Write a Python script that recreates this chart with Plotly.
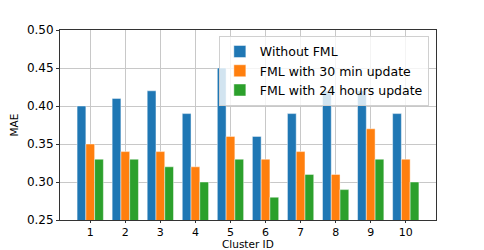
import plotly.graph_objects as go

clusters = [1, 2, 3, 4, 5, 6, 7, 8, 9, 10]
without_fml = [0.40, 0.41, 0.42, 0.39, 0.45, 0.36, 0.39, 0.42, 0.42, 0.39]
fml_30min = [0.35, 0.34, 0.34, 0.32, 0.36, 0.33, 0.34, 0.31, 0.37, 0.33]
fml_24h = [0.33, 0.33, 0.32, 0.30, 0.33, 0.28, 0.31, 0.29, 0.33, 0.30]
series_names = ["Without FML", "FML with 30 min update", "FML with 24 hours update"]
colors = ["#1f77b4", "#ff7f0e", "#2ca02c"]

fig = go.Figure()
for name, vals, c in zip(series_names, [without_fml, fml_30min, fml_24h], colors):
    fig.add_trace(go.Bar(x=clusters, y=vals, name=name, marker=dict(color=c, line=dict(color="rgba(255,255,255,0.45)", width=1))))

font = "DejaVu Sans, sans-serif"
fig.update_layout(
    width=484, height=250,
    margin=dict(l=52, r=56, t=22, b=38, autoexpand=False),
    barmode="group", bargap=0.25, bargroupgap=0,
    plot_bgcolor="white", paper_bgcolor="white",
    font=dict(family=font, size=12, color="black"),
    showlegend=True,
    legend=dict(x=0.981, y=0.969, xanchor="right", yanchor="top",
                bgcolor="rgba(255,255,255,0.8)", bordercolor="#d0d0d0", borderwidth=1,
                font=dict(size=12.5), tracegroupgap=0, itemwidth=30),
    annotations=[dict(text="Cluster ID", x=0.5, y=-0.126, xref="paper", yref="paper",
                      xanchor="center", yanchor="middle", showarrow=False,
                      font=dict(size=10.5), borderpad=0)],
)
fig.update_xaxes(range=[0.1375, 10.8625], tickvals=clusters, ticktext=[str(c) for c in clusters],
                 showgrid=True, gridcolor="#c8c8c8", gridwidth=1, automargin=False,
                 showline=True, linecolor="#333", linewidth=1, mirror=True,
                 ticks="outside", ticklen=2, tickcolor="#333", zeroline=False,
                 tickfont=dict(size=11))
fig.update_yaxes(range=[0.25, 0.5], tickvals=[0.25, 0.30, 0.35, 0.40, 0.45, 0.50],
                 ticktext=["0.25", "0.30", "0.35", "0.40", "0.45", "0.50"],
                 showgrid=True, gridcolor="#c8c8c8", gridwidth=1, automargin=False,
                 showline=True, linecolor="#333", linewidth=1, mirror=True,
                 ticks="outside", ticklen=3, tickcolor="#333",
                 title=dict(text="MAE", font=dict(size=10.5)), zeroline=False)
fig.write_html("out.html")
